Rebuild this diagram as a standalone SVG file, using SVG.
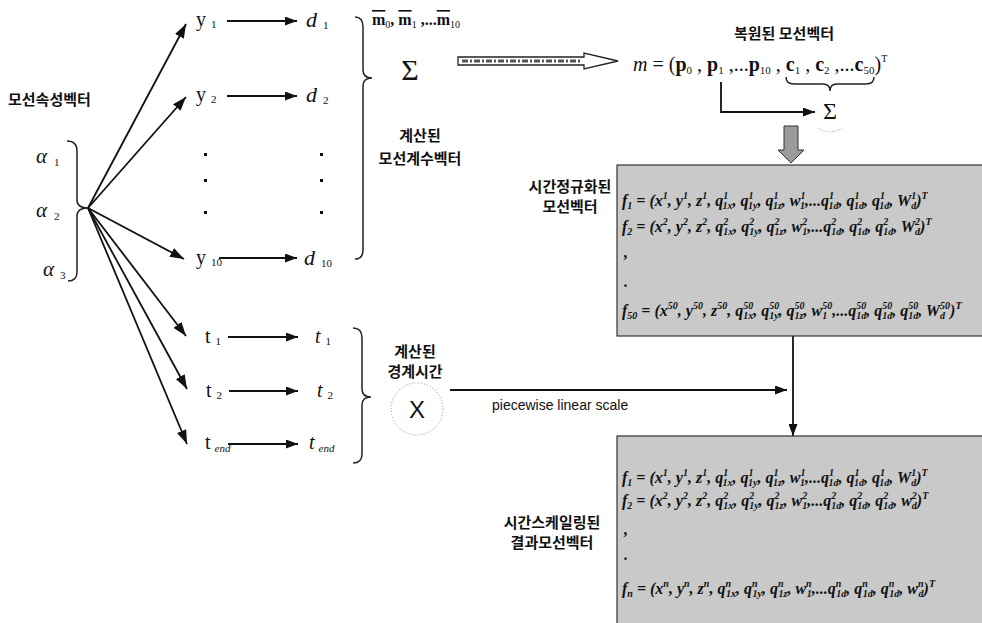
<svg xmlns="http://www.w3.org/2000/svg" width="982" height="623" viewBox="0 0 982 623">
<defs>
<style>
.kr{font-family:"Noto Sans CJK KR","Noto Sans",sans-serif;font-weight:bold;font-size:15px;fill:#111;}
.ser{font-family:"Liberation Serif","Times New Roman",serif;fill:#111;}
.it{font-style:italic;}
.fm{font-family:"Liberation Serif","Times New Roman",serif;font-style:italic;font-weight:bold;font-size:16px;fill:#111;}
.s{font-size:10px;}
.ln{stroke:#111;stroke-width:1.8;fill:none;}
.br{stroke:#222;stroke-width:1.5;fill:none;}
.box{fill:#c9c9c9;stroke:#333;stroke-width:1.2;}
</style>
<marker id="ah" markerUnits="userSpaceOnUse" markerWidth="14" markerHeight="10" refX="14" refY="5" orient="auto">
<path d="M0,0 L14,5 L0,10 z" fill="#111"/>
</marker>
<marker id="ahs" markerUnits="userSpaceOnUse" markerWidth="12" markerHeight="9" refX="12" refY="4.5" orient="auto">
<path d="M0,0 L12,4.5 L0,9 z" fill="#111"/>
</marker>
</defs>
<rect width="982" height="623" fill="#fff"/>

<g id="connectors">
<path class="ln" d="M88,208 L186,24" marker-end="url(#ah)"/>
<path class="ln" d="M88,208 L186,97" marker-end="url(#ah)"/>
<path class="ln" d="M88,208 L184,259" marker-end="url(#ah)"/>
<path class="ln" d="M88,208 L186,336" marker-end="url(#ah)"/>
<path class="ln" d="M88,208 L187,389" marker-end="url(#ah)"/>
<path class="ln" d="M88,208 L187,444" marker-end="url(#ah)"/>
<path class="ln" d="M227,21 L297,21" marker-end="url(#ahs)"/>
<path class="ln" d="M227,96 L297,96" marker-end="url(#ahs)"/>
<path class="ln" d="M219,258 L297,258" marker-end="url(#ahs)"/>
<path class="ln" d="M228,337 L298,337" marker-end="url(#ahs)"/>
<path class="ln" d="M229,391 L298,391" marker-end="url(#ahs)"/>
<path class="ln" d="M228,444 L298,444" marker-end="url(#ahs)"/>
<path class="ln" d="M721,82 L721,112 L815,112" marker-end="url(#ahs)" stroke-width="1.5"/>
<path class="ln" d="M450,390 L787,390" marker-end="url(#ahs)" stroke-width="1.5"/>
<path class="ln" d="M793,336 L793,436" marker-end="url(#ahs)" stroke-width="1.5"/>
<path d="M458,57 L584,57 L584,53 L618,61 L584,69 L584,65 L458,65 z" fill="#fff" stroke="#222" stroke-width="1.3"/>
<path d="M462,61 L582,61" stroke="#555" stroke-width="3" stroke-dasharray="6,2,2,2"/>
<path d="M784,126 L798,126 L798,150 L804,150 L791,163 L778,150 L784,150 z" fill="#9a9a9a" stroke="#333" stroke-width="1"/>
</g>

<g id="braces">
<path class="br" d="M67,141 Q77,141 77,151 L77,200 Q77,208 88,208 Q77,208 77,216 L77,272 Q77,281 68,281"/>
<path class="br" d="M355,17 Q363,17 363,27 L363,70 Q363,78 372,78 Q363,78 363,86 L363,250 Q363,259 355,259"/>
<path class="br" d="M353,328 Q362,328 362,338 L362,389 Q362,397 371,397 Q362,397 362,405 L362,454 Q362,463 353,463"/>
<path class="br" d="M786,77 Q786,84 794,84 L823,84 Q830,84 830,91 Q830,84 837,84 L866,84 Q874,84 874,77"/>
<path d="M818,128 Q830,136 842,128" fill="none" stroke="#999" stroke-width="1" stroke-dasharray="1,1.5"/>
</g>

<g id="alpha-input">
<text class="kr" x="8" y="105">모선속성벡터</text>
<text class="ser it" x="36" y="163" font-size="21">α<tspan font-style="normal" font-size="11" dx="7" dy="3">1</tspan></text>
<text class="ser it" x="36" y="217" font-size="21">α<tspan font-style="normal" font-size="11" dx="7" dy="3">2</tspan></text>
<text class="ser it" x="43" y="276" font-size="21">α<tspan font-style="normal" font-size="11" dx="6" dy="3">3</tspan></text>
</g>

<g id="y-column">
<text class="ser" x="196" y="26" font-size="20">y<tspan font-size="11" dx="5" dy="2">1</tspan></text>
<text class="ser" x="196" y="101" font-size="20">y<tspan font-size="11" dx="5" dy="2">2</tspan></text>
<rect x="204" y="153" width="3" height="3" fill="#111"/>
<rect x="204" y="179" width="3" height="3" fill="#111"/>
<rect x="204" y="211" width="3" height="3" fill="#111"/>
<text class="ser" x="196" y="264" font-size="20">y<tspan font-size="11" dx="5" dy="2">10</tspan></text>
</g>

<g id="d-column">
<text class="ser it" x="306" y="27" font-size="22">d<tspan font-style="normal" font-size="11" dx="6" dy="2">1</tspan></text>
<text class="ser it" x="306" y="102" font-size="22">d<tspan font-style="normal" font-size="11" dx="6" dy="2">2</tspan></text>
<rect x="320" y="153" width="3" height="3" fill="#111"/>
<rect x="320" y="179" width="3" height="3" fill="#111"/>
<rect x="320" y="211" width="3" height="3" fill="#111"/>
<text class="ser it" x="304" y="265" font-size="22">d<tspan font-style="normal" font-size="11" dx="6" dy="2">10</tspan></text>
</g>

<g id="t-column">
<text class="ser" x="205" y="343" font-size="20">t<tspan font-size="11" dx="5" dy="2">1</tspan></text>
<text class="ser" x="206" y="397" font-size="20">t<tspan font-size="11" dx="5" dy="2">2</tspan></text>
<text class="ser" x="205" y="449" font-size="20">t<tspan class="it" font-size="11" dx="4" dy="3">end</tspan></text>
<text class="ser it" x="315" y="343" font-size="20">t<tspan font-style="normal" font-size="11" dx="5" dy="2">1</tspan></text>
<text class="ser it" x="317" y="397" font-size="20">t<tspan font-style="normal" font-size="11" dx="5" dy="2">2</tspan></text>
<text class="ser it" x="309" y="449" font-size="20">t<tspan font-size="11" dx="4" dy="3">end</tspan></text>
</g>

<g id="coef">
<text class="ser" x="372" y="25" font-size="16" font-weight="bold"><tspan text-decoration="overline">m</tspan><tspan font-size="10" font-weight="normal" dy="3">0</tspan><tspan dy="-3">, </tspan><tspan text-decoration="overline">m</tspan><tspan font-size="10" font-weight="normal" dy="3">1</tspan><tspan dy="-3"> ,...</tspan><tspan text-decoration="overline">m</tspan><tspan font-size="10" font-weight="normal" dy="3">10</tspan></text>
<text class="ser" x="410" y="80" font-size="30" text-anchor="middle">Σ</text>
<text class="kr" x="420" y="141" text-anchor="middle">계산된</text>
<text class="kr" x="420" y="164" text-anchor="middle">모선계수벡터</text>
</g>

<g id="restored">
<text class="kr" x="784" y="39" text-anchor="middle">복원된 모선벡터</text>
<text class="ser" x="633" y="71" font-size="20"><tspan class="it">m</tspan> = (<tspan font-weight="bold">p</tspan><tspan font-size="11" dy="3">0</tspan><tspan dy="-3"> , </tspan><tspan font-weight="bold">p</tspan><tspan font-size="11" dy="3">1</tspan><tspan dy="-3"> ,...</tspan><tspan font-weight="bold">p</tspan><tspan font-size="11" dy="3">10</tspan><tspan dy="-3"> , </tspan><tspan font-weight="bold">c</tspan><tspan font-size="11" dy="3">1</tspan><tspan dy="-3"> , </tspan><tspan font-weight="bold">c</tspan><tspan font-size="11" dy="3">2</tspan><tspan dy="-3"> ,...</tspan><tspan font-weight="bold">c</tspan><tspan font-size="11" dy="3">50</tspan><tspan dy="-3">)</tspan><tspan font-size="10" dy="-9">T</tspan></text>
<text class="ser" x="830" y="119" font-size="24" text-anchor="middle">Σ</text>
</g>

<g id="normalized">
<text class="kr" x="570" y="192" text-anchor="middle">시간정규화된</text>
<text class="kr" x="570" y="212" text-anchor="middle">모선벡터</text>
<rect class="box" x="617" y="165" width="370" height="171"/>
<text class="fm" x="622" y="206">f<tspan class="s" dy="3">1</tspan><tspan dy="-3"> = (x</tspan><tspan class="s" dy="-7">1</tspan><tspan dy="7">, y</tspan><tspan class="s" dy="-7">1</tspan><tspan dy="7">, z</tspan><tspan class="s" dy="-7">1</tspan><tspan dy="7">, q</tspan><tspan class="s" dy="-7">1</tspan><tspan class="s" dx="-5" dy="10">1x</tspan><tspan dy="-3">, q</tspan><tspan class="s" dy="-7">1</tspan><tspan class="s" dx="-5" dy="10">1y</tspan><tspan dy="-3">, q</tspan><tspan class="s" dy="-7">1</tspan><tspan class="s" dx="-5" dy="10">1z</tspan><tspan dy="-3">, w</tspan><tspan class="s" dy="-7">1</tspan><tspan class="s" dx="-5" dy="10">1</tspan><tspan dy="-3">,...q</tspan><tspan class="s" dy="-7">1</tspan><tspan class="s" dx="-5" dy="10">1d</tspan><tspan dy="-3">, q</tspan><tspan class="s" dy="-7">1</tspan><tspan class="s" dx="-5" dy="10">1d</tspan><tspan dy="-3">, q</tspan><tspan class="s" dy="-7">1</tspan><tspan class="s" dx="-5" dy="10">1d</tspan><tspan dy="-3">, W</tspan><tspan class="s" dy="-7">1</tspan><tspan class="s" dx="-5" dy="10">d</tspan><tspan dy="-3">)</tspan><tspan class="s" dy="-7">T</tspan></text>
<text class="fm" x="622" y="232">f<tspan class="s" dy="3">2</tspan><tspan dy="-3"> = (x</tspan><tspan class="s" dy="-7">2</tspan><tspan dy="7">, y</tspan><tspan class="s" dy="-7">2</tspan><tspan dy="7">, z</tspan><tspan class="s" dy="-7">2</tspan><tspan dy="7">, q</tspan><tspan class="s" dy="-7">2</tspan><tspan class="s" dx="-5" dy="10">1x</tspan><tspan dy="-3">, q</tspan><tspan class="s" dy="-7">2</tspan><tspan class="s" dx="-5" dy="10">1y</tspan><tspan dy="-3">, q</tspan><tspan class="s" dy="-7">2</tspan><tspan class="s" dx="-5" dy="10">1z</tspan><tspan dy="-3">, w</tspan><tspan class="s" dy="-7">2</tspan><tspan class="s" dx="-5" dy="10">1</tspan><tspan dy="-3">,...q</tspan><tspan class="s" dy="-7">2</tspan><tspan class="s" dx="-5" dy="10">1d</tspan><tspan dy="-3">, q</tspan><tspan class="s" dy="-7">2</tspan><tspan class="s" dx="-5" dy="10">1d</tspan><tspan dy="-3">, q</tspan><tspan class="s" dy="-7">2</tspan><tspan class="s" dx="-5" dy="10">1d</tspan><tspan dy="-3">, W</tspan><tspan class="s" dy="-7">2</tspan><tspan class="s" dx="-5" dy="10">d</tspan><tspan dy="-3">)</tspan><tspan class="s" dy="-7">T</tspan></text>
<text class="fm" x="624" y="258">,</text>
<text class="fm" x="624" y="287">.</text>
<text class="fm" x="622" y="316">f<tspan class="s" dy="3">50</tspan><tspan dy="-3"> = (x</tspan><tspan class="s" dy="-7">50</tspan><tspan dy="7">, y</tspan><tspan class="s" dy="-7">50</tspan><tspan dy="7">, z</tspan><tspan class="s" dy="-7">50</tspan><tspan dy="7">, q</tspan><tspan class="s" dy="-7">50</tspan><tspan class="s" dx="-10" dy="10">1x</tspan><tspan dy="-3">, q</tspan><tspan class="s" dy="-7">50</tspan><tspan class="s" dx="-10" dy="10">1y</tspan><tspan dy="-3">, q</tspan><tspan class="s" dy="-7">50</tspan><tspan class="s" dx="-10" dy="10">1z</tspan><tspan dy="-3">, w</tspan><tspan class="s" dy="-7">50</tspan><tspan class="s" dx="-10" dy="10">1</tspan><tspan dx="5" dy="-3">,...q</tspan><tspan class="s" dy="-7">50</tspan><tspan class="s" dx="-10" dy="10">1d</tspan><tspan dy="-3">, q</tspan><tspan class="s" dy="-7">50</tspan><tspan class="s" dx="-10" dy="10">1d</tspan><tspan dy="-3">, q</tspan><tspan class="s" dy="-7">50</tspan><tspan class="s" dx="-10" dy="10">1d</tspan><tspan dy="-3">, W</tspan><tspan class="s" dy="-7">50</tspan><tspan class="s" dx="-10" dy="10">d</tspan><tspan dx="5" dy="-3">)</tspan><tspan class="s" dy="-7">T</tspan></text>
</g>

<g id="boundary">
<text class="kr" x="415" y="357" text-anchor="middle">계산된</text>
<text class="kr" x="415" y="377" text-anchor="middle">경계시간</text>
<circle cx="417" cy="409" r="26" fill="none" stroke="#888" stroke-width="1" stroke-dasharray="1,2"/>
<text x="417" y="418" font-family="Liberation Sans, Arial, sans-serif" font-size="24" text-anchor="middle" fill="#111">X</text>
<text x="492" y="410" font-family="Liberation Sans, Arial, sans-serif" font-size="14" fill="#111">piecewise linear scale</text>
</g>

<g id="scaled">
<text class="kr" x="552" y="528" text-anchor="middle">시간스케일링된</text>
<text class="kr" x="552" y="548" text-anchor="middle">결과모선벡터</text>
<rect class="box" x="617" y="436" width="370" height="195"/>
<text class="fm" x="622" y="483">f<tspan class="s" dy="3">1</tspan><tspan dy="-3"> = (x</tspan><tspan class="s" dy="-7">1</tspan><tspan dy="7">, y</tspan><tspan class="s" dy="-7">1</tspan><tspan dy="7">, z</tspan><tspan class="s" dy="-7">1</tspan><tspan dy="7">, q</tspan><tspan class="s" dy="-7">1</tspan><tspan class="s" dx="-5" dy="10">1x</tspan><tspan dy="-3">, q</tspan><tspan class="s" dy="-7">1</tspan><tspan class="s" dx="-5" dy="10">1y</tspan><tspan dy="-3">, q</tspan><tspan class="s" dy="-7">1</tspan><tspan class="s" dx="-5" dy="10">1z</tspan><tspan dy="-3">, w</tspan><tspan class="s" dy="-7">1</tspan><tspan class="s" dx="-5" dy="10">1</tspan><tspan dy="-3">,...q</tspan><tspan class="s" dy="-7">1</tspan><tspan class="s" dx="-5" dy="10">1d</tspan><tspan dy="-3">, q</tspan><tspan class="s" dy="-7">1</tspan><tspan class="s" dx="-5" dy="10">1d</tspan><tspan dy="-3">, q</tspan><tspan class="s" dy="-7">1</tspan><tspan class="s" dx="-5" dy="10">1d</tspan><tspan dy="-3">, W</tspan><tspan class="s" dy="-7">1</tspan><tspan class="s" dx="-5" dy="10">d</tspan><tspan dy="-3">)</tspan><tspan class="s" dy="-7">T</tspan></text>
<text class="fm" x="622" y="506">f<tspan class="s" dy="3">2</tspan><tspan dy="-3"> = (x</tspan><tspan class="s" dy="-7">2</tspan><tspan dy="7">, y</tspan><tspan class="s" dy="-7">2</tspan><tspan dy="7">, z</tspan><tspan class="s" dy="-7">2</tspan><tspan dy="7">, q</tspan><tspan class="s" dy="-7">2</tspan><tspan class="s" dx="-5" dy="10">1x</tspan><tspan dy="-3">, q</tspan><tspan class="s" dy="-7">2</tspan><tspan class="s" dx="-5" dy="10">1y</tspan><tspan dy="-3">, q</tspan><tspan class="s" dy="-7">2</tspan><tspan class="s" dx="-5" dy="10">1z</tspan><tspan dy="-3">, w</tspan><tspan class="s" dy="-7">2</tspan><tspan class="s" dx="-5" dy="10">1</tspan><tspan dy="-3">,...q</tspan><tspan class="s" dy="-7">2</tspan><tspan class="s" dx="-5" dy="10">1d</tspan><tspan dy="-3">, q</tspan><tspan class="s" dy="-7">2</tspan><tspan class="s" dx="-5" dy="10">1d</tspan><tspan dy="-3">, q</tspan><tspan class="s" dy="-7">2</tspan><tspan class="s" dx="-5" dy="10">1d</tspan><tspan dy="-3">, w</tspan><tspan class="s" dy="-7">2</tspan><tspan class="s" dx="-5" dy="10">d</tspan><tspan dy="-3">)</tspan><tspan class="s" dy="-7">T</tspan></text>
<text class="fm" x="624" y="535">,</text>
<text class="fm" x="624" y="560">.</text>
<text class="fm" x="622" y="594">f<tspan class="s" dy="3">n</tspan><tspan dy="-3"> = (x</tspan><tspan class="s" dy="-7">n</tspan><tspan dy="7">, y</tspan><tspan class="s" dy="-7">n</tspan><tspan dy="7">, z</tspan><tspan class="s" dy="-7">n</tspan><tspan dy="7">, q</tspan><tspan class="s" dy="-7">n</tspan><tspan class="s" dx="-5" dy="10">1x</tspan><tspan dy="-3">, q</tspan><tspan class="s" dy="-7">n</tspan><tspan class="s" dx="-5" dy="10">1y</tspan><tspan dy="-3">, q</tspan><tspan class="s" dy="-7">n</tspan><tspan class="s" dx="-5" dy="10">1z</tspan><tspan dy="-3">, w</tspan><tspan class="s" dy="-7">n</tspan><tspan class="s" dx="-5" dy="10">1</tspan><tspan dy="-3">,...q</tspan><tspan class="s" dy="-7">n</tspan><tspan class="s" dx="-5" dy="10">1d</tspan><tspan dy="-3">, q</tspan><tspan class="s" dy="-7">n</tspan><tspan class="s" dx="-5" dy="10">1d</tspan><tspan dy="-3">, q</tspan><tspan class="s" dy="-7">n</tspan><tspan class="s" dx="-5" dy="10">1d</tspan><tspan dy="-3">, w</tspan><tspan class="s" dy="-7">n</tspan><tspan class="s" dx="-5" dy="10">d</tspan><tspan dy="-3">)</tspan><tspan class="s" dy="-7">T</tspan></text>
</g>
</svg>
